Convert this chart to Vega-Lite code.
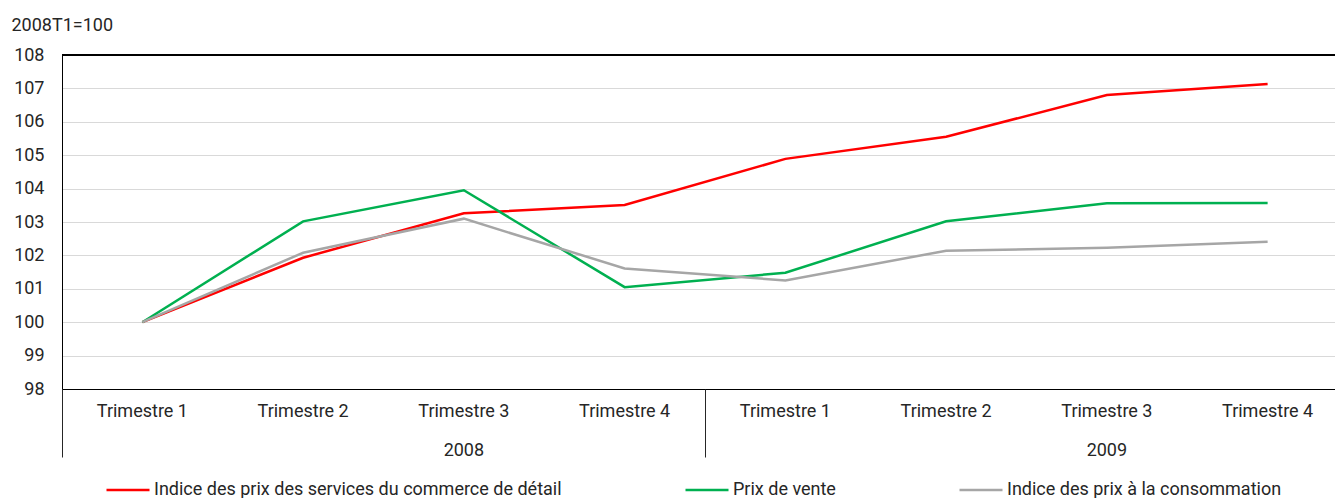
{
  "$schema": "https://vega.github.io/schema/vega-lite/v6.json",
  "width": 1273,
  "height": 334,
  "autosize": {"type": "none"},
  "padding": {"left": 62, "top": 55, "right": 0, "bottom": 109},
  "background": "white",
  "data": {
    "values": [
      {"period": "2008 T1", "series": "Indice des prix des services du commerce de détail", "value": 100},
      {"period": "2008 T2", "series": "Indice des prix des services du commerce de détail", "value": 101.93},
      {"period": "2008 T3", "series": "Indice des prix des services du commerce de détail", "value": 103.26},
      {"period": "2008 T4", "series": "Indice des prix des services du commerce de détail", "value": 103.51},
      {"period": "2009 T1", "series": "Indice des prix des services du commerce de détail", "value": 104.89},
      {"period": "2009 T2", "series": "Indice des prix des services du commerce de détail", "value": 105.55},
      {"period": "2009 T3", "series": "Indice des prix des services du commerce de détail", "value": 106.8},
      {"period": "2009 T4", "series": "Indice des prix des services du commerce de détail", "value": 107.13},
      {"period": "2008 T1", "series": "Prix de vente", "value": 100},
      {"period": "2008 T2", "series": "Prix de vente", "value": 103.02},
      {"period": "2008 T3", "series": "Prix de vente", "value": 103.95},
      {"period": "2008 T4", "series": "Prix de vente", "value": 101.05},
      {"period": "2009 T1", "series": "Prix de vente", "value": 101.48},
      {"period": "2009 T2", "series": "Prix de vente", "value": 103.02},
      {"period": "2009 T3", "series": "Prix de vente", "value": 103.56},
      {"period": "2009 T4", "series": "Prix de vente", "value": 103.57},
      {"period": "2008 T1", "series": "Indice des prix à la consommation", "value": 100},
      {"period": "2008 T2", "series": "Indice des prix à la consommation", "value": 102.08},
      {"period": "2008 T3", "series": "Indice des prix à la consommation", "value": 103.1},
      {"period": "2008 T4", "series": "Indice des prix à la consommation", "value": 101.61},
      {"period": "2009 T1", "series": "Indice des prix à la consommation", "value": 101.25},
      {"period": "2009 T2", "series": "Indice des prix à la consommation", "value": 102.14},
      {"period": "2009 T3", "series": "Indice des prix à la consommation", "value": 102.23},
      {"period": "2009 T4", "series": "Indice des prix à la consommation", "value": 102.41}
    ]
  },
  "layer": [
    {
      "mark": {"type": "line", "strokeWidth": 2.5},
      "encoding": {
        "x": {
          "field": "period",
          "type": "ordinal",
          "bandPosition": 0.5,
          "scale": {"type": "band", "range": [0, 1286], "paddingInner": 0, "paddingOuter": 0},
          "axis": {
            "orient": "bottom",
            "title": null,
            "labelAngle": 0,
            "ticks": false,
            "tickSize": 0,
            "domain": true,
            "domainColor": "black",
            "domainWidth": 1,
            "grid": false,
            "labelExpr": "'Trimestre ' + slice(datum.value, 6)",
            "labelFontSize": 18,
            "labelColor": "#262626",
            "labelPadding": 13,
            "labelBaseline": "top"
          }
        },
        "y": {
          "field": "value",
          "type": "quantitative",
          "scale": {"domain": [98, 108], "nice": false, "zero": false},
          "axis": {
            "orient": "left",
            "title": "2008T1=100",
            "titleAngle": 0,
            "titleAlign": "left",
            "titleBaseline": "alphabetic",
            "titleX": -51,
            "titleY": -25,
            "titleFontSize": 18,
            "titleFontWeight": "normal",
            "titleColor": "#262626",
            "values": [98, 99, 100, 101, 102, 103, 104, 105, 106, 107, 108],
            "labelOverlap": false,
            "ticks": false,
            "domainColor": "black",
            "domainWidth": 1,
            "gridColor": "#d9d9d9",
            "gridWidth": 1,
            "labelFontSize": 18,
            "labelColor": "#262626",
            "labelPadding": 18
          }
        },
        "color": {
          "field": "series",
          "type": "nominal",
          "sort": null,
          "scale": {
            "domain": ["Indice des prix des services du commerce de détail", "Prix de vente", "Indice des prix à la consommation"],
            "range": ["#ff0000", "#00b050", "#a6a6a6"]
          },
          "legend": {
            "title": null,
            "orient": "none",
            "direction": "horizontal",
            "legendX": 43,
            "legendY": 412,
            "symbolType": "stroke",
            "symbolSize": 1849,
            "symbolStrokeWidth": 2.5,
            "labelFontSize": 18,
            "labelColor": "#262626",
            "labelOffset": 3,
            "columnPadding": 118,
            "labelLimit": 600
          }
        }
      }
    },
    {
      "mark": {"type": "rule", "color": "black", "strokeWidth": 1},
      "encoding": {
        "y": {
          "datum": 108,
          "type": "quantitative",
          "axis": {
            "orient": "left",
            "title": "2008T1=100",
            "titleAngle": 0,
            "titleAlign": "left",
            "titleBaseline": "alphabetic",
            "titleX": -51,
            "titleY": -25,
            "titleFontSize": 18,
            "titleFontWeight": "normal",
            "titleColor": "#262626",
            "values": [98, 99, 100, 101, 102, 103, 104, 105, 106, 107, 108],
            "labelOverlap": false,
            "ticks": false,
            "domainColor": "black",
            "domainWidth": 1,
            "gridColor": "#d9d9d9",
            "gridWidth": 1,
            "labelFontSize": 18,
            "labelColor": "#262626",
            "labelPadding": 18
          }
        }
      }
    },
    {
      "mark": {"type": "line", "strokeOpacity": 0},
      "encoding": {
        "x": {
          "field": "period",
          "type": "ordinal",
          "bandPosition": 0.5,
          "scale": {"type": "band", "range": [0, 1286], "paddingInner": 0, "paddingOuter": 0},
          "axis": {
            "orient": "bottom",
            "title": null,
            "values": ["2008 T1", "2009 T1"],
            "bandPosition": 0,
            "labelAngle": 0,
            "domain": false,
            "grid": false,
            "ticks": true,
            "tickSize": 68,
            "tickColor": "#262626",
            "tickWidth": 1,
            "labelExpr": "slice(datum.value, 0, 4)",
            "labelOffset": 321.5,
            "labelAlign": "center",
            "labelFontSize": 18,
            "labelColor": "#262626",
            "labelPadding": -16,
            "labelBaseline": "top"
          }
        },
        "y": {
          "field": "value",
          "type": "quantitative",
          "axis": {
            "orient": "left",
            "title": "2008T1=100",
            "titleAngle": 0,
            "titleAlign": "left",
            "titleBaseline": "alphabetic",
            "titleX": -51,
            "titleY": -25,
            "titleFontSize": 18,
            "titleFontWeight": "normal",
            "titleColor": "#262626",
            "values": [98, 99, 100, 101, 102, 103, 104, 105, 106, 107, 108],
            "labelOverlap": false,
            "ticks": false,
            "domainColor": "black",
            "domainWidth": 1,
            "gridColor": "#d9d9d9",
            "gridWidth": 1,
            "labelFontSize": 18,
            "labelColor": "#262626",
            "labelPadding": 18
          }
        }
      }
    }
  ],
  "resolve": {"axis": {"x": "independent"}},
  "config": {
    "font": "Roboto, sans-serif",
    "view": {"stroke": null}
  }
}
